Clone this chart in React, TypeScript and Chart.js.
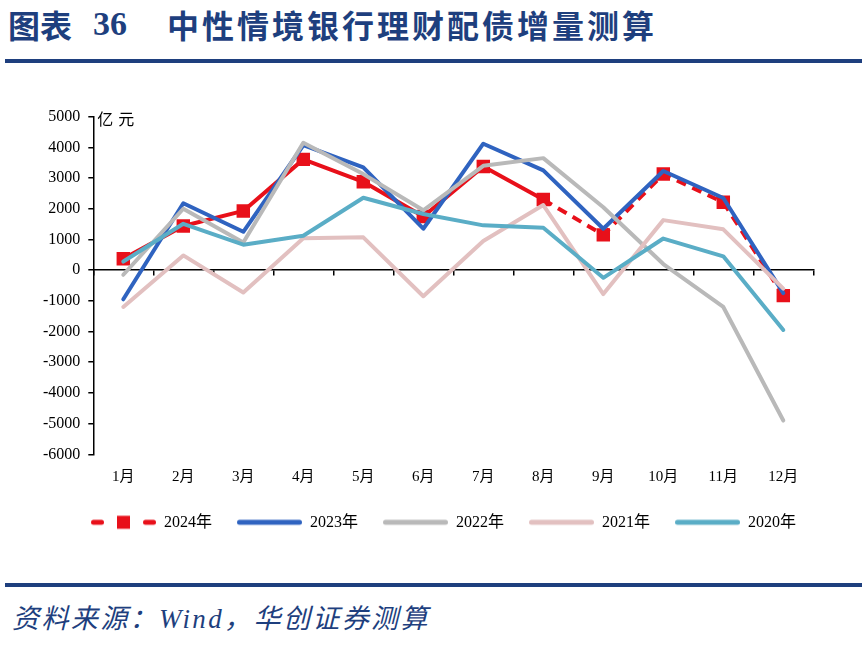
import React, { useEffect, useRef } from 'react';
import { Chart, registerables } from 'chart.js';

Chart.register(...registerables);

// ---- data ----
const titlePrefix = '图表';
const titleNumber = '36';
const titleText = '中性情境银行理财配债增量测算';
const sourceText = '资料来源：Wind，华创证券测算';
const unitLabel = '亿元';

const months = ['1月', '2月', '3月', '4月', '5月', '6月', '7月', '8月', '9月', '10月', '11月', '12月'];
const yTicks = [5000, 4000, 3000, 2000, 1000, 0, -1000, -2000, -3000, -4000, -5000, -6000];

const seriesNames = ['2024年', '2023年', '2022年', '2021年', '2020年'];
const s2024 = [370, 1440, 1930, 3610, 2880, 1750, 3380, 2300, 1150, 3130, 2210, -830];
const s2023 = [-950, 2180, 1250, 4070, 3350, 1350, 4120, 3250, 1350, 3230, 2350, -750];
const s2022 = [-150, 2000, 900, 4150, 3130, 1950, 3400, 3650, 2050, 200, -1200, -4900];
const s2021 = [-1200, 480, -730, 1040, 1070, -850, 950, 2120, -780, 1630, 1330, -600];
const s2020 = [280, 1510, 830, 1120, 2360, 1830, 1460, 1380, -250, 1030, 450, -1950];

// ---- styles ----
const NAVY = '#1e3f7e';
const RED = '#E8101A';
const BLUE = '#2F63C0';
const GRAY = '#B9B9B9';
const PINK = '#E2C0C0';
const TEAL = '#5AADC6';
const FONT = '"Liberation Serif", "Times New Roman", "Noto Sans CJK SC", serif';

function legendImage(color: string, dashed: boolean) {
  const c = document.createElement('canvas');
  c.width = 65;
  c.height = 16;
  const g = c.getContext('2d')!;
  g.strokeStyle = color;
  g.fillStyle = color;
  g.lineWidth = 5;
  g.lineCap = 'round';
  if (dashed) {
    g.beginPath(); g.moveTo(2.5, 8); g.lineTo(10.5, 8); g.stroke();
    g.fillRect(26, 1.5, 13, 13);
    g.beginPath(); g.moveTo(54.5, 8); g.lineTo(62.5, 8); g.stroke();
  } else {
    g.beginPath(); g.moveTo(2.5, 8); g.lineTo(62.5, 8); g.stroke();
  }
  return c;
}

const unitPlugin = {
  id: 'unitLabel',
  afterDraw(chart: any) {
    const { ctx, chartArea } = chart;
    ctx.save();
    ctx.fillStyle = '#000';
    ctx.font = '16px "Noto Sans CJK SC"';
    ctx.textBaseline = 'middle';
    ctx.textAlign = 'left';
    Array.from(unitLabel).forEach((ch, i) => {
      ctx.fillText(ch, chartArea.left + 4 + i * 21, chartArea.top + 2);
    });
    ctx.restore();
  },
};

export default function App() {
  const ref = useRef<HTMLCanvasElement | null>(null);

  useEffect(() => {
    if (!ref.current) return;
    const colors = [RED, BLUE, GRAY, PINK, TEAL];
    const values = [s2024, s2023, s2022, s2021, s2020];
    const datasets = values.map((d, i) => {
      const base: any = {
        label: seriesNames[i],
        data: d,
        borderColor: colors[i],
        backgroundColor: colors[i],
        borderWidth: 4,
        borderJoinStyle: 'round',
        borderCapStyle: 'round',
        tension: 0,
        fill: false,
        pointRadius: 0,
        pointHoverRadius: 0,
        order: 5 - i,
      };
      if (i === 0) {
        base.pointStyle = 'rect';
        base.pointRadius = 9.5;
        base.pointBackgroundColor = RED;
        base.pointBorderWidth = 0;
        base.borderCapStyle = 'butt';
        base.segment = {
          borderDash: (ctx: any) => (ctx.p0DataIndex >= 7 ? [10, 7] : undefined),
        };
      }
      return base;
    });

    const images = colors.map((c, i) => legendImage(c, i === 0));

    const chart = new Chart(ref.current, {
      type: 'line',
      data: { labels: months, datasets },
      options: {
        animation: false,
        responsive: false,
        events: [],
        layout: { padding: { left: 36, right: 16, top: 46.7, bottom: 34.7 } },
        plugins: {
          tooltip: { enabled: false },
          legend: {
            display: true,
            position: 'bottom',
            align: 'center',
            labels: {
              usePointStyle: true,
              pointStyleWidth: 65,
              padding: 25,
              color: '#000',
              font: { family: FONT, size: 16 },
              generateLabels: (ch: any) =>
                ch.data.datasets.map((ds: any, i: number) => ({
                  text: ds.label,
                  pointStyle: images[i],
                  fillStyle: colors[i],
                  strokeStyle: colors[i],
                  lineWidth: 0,
                  hidden: false,
                  datasetIndex: i,
                  fontColor: '#000',
                })),
            },
          },
        },
        scales: {
          x: {
            type: 'category',
            position: 'bottom',
            offset: true,
            grid: { display: false, drawTicks: false, tickLength: 0 },
            border: { display: false },
            ticks: {
              color: '#000',
              font: { family: FONT, size: 15 },
              padding: 14,
              autoSkip: false,
              maxRotation: 0,
            },
            afterFit: (s: any) => { s.height = 35; },
          },
          x0: {
            type: 'category',
            axis: 'x',
            position: { y: 0 },
            offset: true,
            grid: {
              display: true,
              drawOnChartArea: false,
              drawTicks: true,
              tickLength: 5,
              offset: true,
              color: '#000',
              lineWidth: 1.5,
            },
            border: { display: true, color: '#000', width: 1.5 },
            ticks: { display: false },
          },
          y: {
            type: 'linear',
            position: 'left',
            min: yTicks[yTicks.length - 1],
            max: yTicks[0],
            afterBuildTicks: (s: any) => { s.ticks = yTicks.map((v) => ({ value: v })); },
            ticks: {
              autoSkip: false,
              color: '#000',
              font: { family: FONT, size: 16 },
              padding: 8,
              callback: (v: any) => String(v),
            },
            grid: {
              display: true,
              drawOnChartArea: false,
              drawTicks: true,
              tickLength: 5,
              color: '#000',
              lineWidth: 1.5,
            },
            border: { display: true, color: '#000', width: 1.5 },
            afterFit: (s: any) => { s.width = 57.3; },
          },
          yRight: {
            type: 'linear',
            position: 'right',
            display: true,
            grid: { display: false, drawTicks: false, tickLength: 0 },
            border: { display: false },
            ticks: { display: false },
            afterFit: (s: any) => { s.width = 37.7; },
          },
        } as any,
      },
      plugins: [unitPlugin],
    });
    return () => chart.destroy();
  }, []);

  const navyLine: React.CSSProperties = {
    position: 'absolute', left: 5, width: 857, height: 4, background: NAVY,
  };
  const titleFont: React.CSSProperties = {
    position: 'absolute', top: 7, lineHeight: '34px', fontSize: 32, fontWeight: 700,
    color: NAVY, whiteSpace: 'nowrap',
  };

  return (
    <div style={{ position: 'fixed', left: 0, top: 0, width: 867, height: 645, background: '#fff', overflow: 'hidden' }}>
      <div style={{ ...titleFont, left: 8, fontFamily: '"Noto Sans CJK SC", sans-serif' }}>{titlePrefix}</div>
      <div style={{ ...titleFont, left: 93, fontSize: 34, fontFamily: '"Liberation Serif", serif' }}>{titleNumber}</div>
      <div style={{ ...titleFont, left: 167, letterSpacing: 3, fontFamily: '"Noto Sans CJK SC", sans-serif' }}>{titleText}</div>
      <div style={{ ...navyLine, top: 59 }} />
      <canvas ref={ref} width={867} height={505} style={{ position: 'absolute', left: 0, top: 70, width: 867, height: 505 }} />
      <div style={{ ...navyLine, top: 583 }} />
      <div style={{
        position: 'absolute', left: 12, top: 604, fontSize: 27, lineHeight: '30px', fontStyle: 'italic',
        color: NAVY, letterSpacing: 2.4, whiteSpace: 'nowrap', fontFamily: FONT,
      }}>{sourceText}</div>
    </div>
  );
}
